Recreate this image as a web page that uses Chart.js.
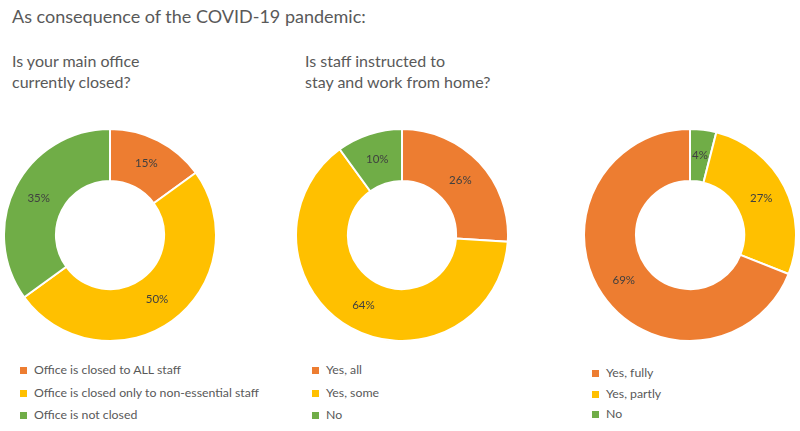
<!DOCTYPE html>
<html>
<head>
<meta charset="utf-8">
<script src="https://cdn.jsdelivr.net/npm/chart.js@4"></script>
<style>
  body { margin: 0; background: #fff; width: 800px; height: 431px; position: relative; overflow: hidden;
         font-family: Lato, "Open Sans", sans-serif; color: #595959; }
  .txt { position: absolute; white-space: nowrap; }
  .main { left: 12px; top: 5px; font-size: 18px; }
  .sub { font-size: 16px; line-height: 21px; top: 50px; }
  .box { position: absolute; width: 214px; height: 214px; }
  .legend { position: absolute; font-size: 12.3px; }
  .legend div { position: relative; padding-left: 14px; white-space: nowrap; }
  .legend span { position: absolute; left: 0; top: 5px; width: 7px; height: 7px; }
</style>
</head>
<body>
<div class="txt main" id="mainTitle"></div>
<div class="txt sub" style="left:12px" id="sub1"></div>
<div class="txt sub" style="left:305px" id="sub2"></div>

<div class="box" style="left:3px;top:128px"><canvas id="c1"></canvas></div>
<div class="box" style="left:295px;top:128px"><canvas id="c2"></canvas></div>
<div class="box" style="left:583px;top:128px"><canvas id="c3"></canvas></div>

<div class="legend" id="lg1" style="left:20px;top:362px"></div>
<div class="legend" id="lg2" style="left:312px;top:362px"></div>
<div class="legend" id="lg3" style="left:592px;top:365px"></div>

<script>
// data
const mainTitle = "As consequence of the COVID-19 pandemic:";
const q1Title = ["Is your main office", "currently closed?"];
const q2Title = ["Is staff instructed to", "stay and work from home?"];

const q1Labels = ["Office is closed to ALL staff", "Office is closed only to non-essential staff", "Office is not closed"];
const q1Values = [15, 50, 35];

const q2Labels = ["Yes, all", "Yes, some", "No"];
const q2Values = [26, 64, 10];

const q3Labels = ["Yes, fully", "Yes, partly", "No"];
const q3Values = [69, 27, 4];

const sliceColors = ["#ED7D31", "#FFC000", "#70AD47"];

document.getElementById("mainTitle").textContent = mainTitle;
document.getElementById("sub1").innerHTML = q1Title.join("<br>");
document.getElementById("sub2").innerHTML = q2Title.join("<br>");

// percentage text in the middle of each ring piece
const sliceLabels = {
  id: "sliceLabels",
  afterDatasetsDraw(chart) {
    const ctx = chart.ctx;
    const ds = chart.data.datasets[0];
    ctx.save();
    ctx.font = "11.5px Lato, sans-serif";
    ctx.fillStyle = "#404040";
    ctx.textAlign = "center";
    ctx.textBaseline = "middle";
    chart.getDatasetMeta(0).data.forEach((arc, i) => {
      const p = arc.getCenterPoint();
      ctx.fillText(ds.data[i] + "%", p.x, p.y);
    });
    ctx.restore();
  }
};

function makeDonut(id, labels, values, reverse) {
  let order = labels.map((_, i) => i);
  if (reverse) order = order.reverse();
  new Chart(document.getElementById(id), {
    type: "doughnut",
    data: {
      labels: order.map(i => labels[i]),
      datasets: [{
        data: order.map(i => values[i]),
        backgroundColor: order.map(i => sliceColors[i]),
        borderColor: "#fff",
        borderWidth: 2
      }]
    },
    options: {
      responsive: true,
      maintainAspectRatio: false,
      animation: false,
      cutout: "51%",
      layout: { padding: 0 },
      plugins: { legend: { display: false }, tooltip: { enabled: false } }
    },
    plugins: [sliceLabels]
  });
}

function makeLegend(id, labels, gap) {
  const el = document.getElementById(id);
  labels.forEach((l, i) => {
    const row = document.createElement("div");
    row.style.height = gap + "px";
    row.innerHTML = '<span style="background:' + sliceColors[i] + '"></span>' + l;
    el.appendChild(row);
  });
}

makeDonut("c1", q1Labels, q1Values, false);
makeDonut("c2", q2Labels, q2Values, false);
makeDonut("c3", q3Labels, q3Values, true);

makeLegend("lg1", q1Labels, 22.5);
makeLegend("lg2", q2Labels, 22.5);
makeLegend("lg3", q3Labels, 20.5);
</script>
</body>
</html>
